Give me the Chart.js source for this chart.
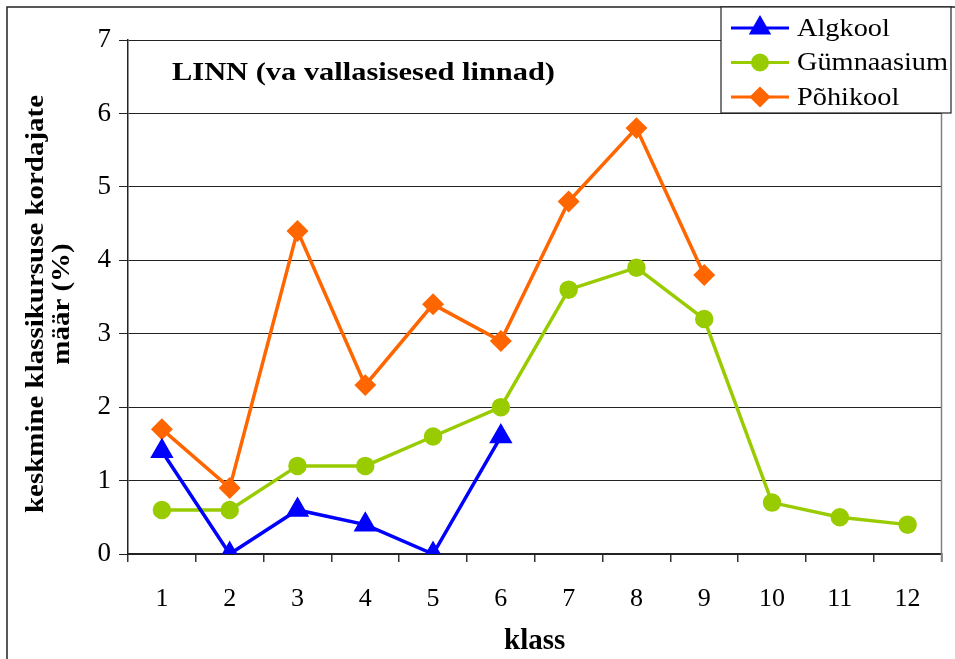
<!DOCTYPE html>
<html>
<head>
<meta charset="utf-8">
<script src="https://cdn.jsdelivr.net/npm/chart.js@4"></script>
<style>
  html, body { margin: 0; padding: 0; background: #fff; }
  #wrap { width: 955px; height: 659px; }
</style>
</head>
<body>
<div id="wrap"><canvas id="graafik" width="955" height="659"></canvas></div>
<script>
// Andmed
const klassid = ['1', '2', '3', '4', '5', '6', '7', '8', '9', '10', '11', '12'];
const algkool = [1.4, 0, 0.6, 0.4, 0, 1.6, null, null, null, null, null, null];
const gymnaasium = [0.6, 0.6, 1.2, 1.2, 1.6, 2.0, 3.6, 3.9, 3.2, 0.7, 0.5, 0.4];
const pohikool = [1.7, 0.9, 4.4, 2.3, 3.4, 2.9, 4.8, 5.8, 3.8, null, null, null];
const yTicks = [0, 1, 2, 3, 4, 5, 6, 7];
const yPealkiri = ['keskmine klassikursuse kordajate', 'määr (%)'];

const serif = '"Liberation Serif", "Times New Roman", serif';

// laiendatud tekst (originaal on laiemalt joonistatud)
function laiTekst(ctx, tekst, x, y, laius) {
    const m = ctx.measureText(tekst).width;
    ctx.save();
    ctx.translate(x, y);
    ctx.scale(laius / m, 1);
    ctx.fillText(tekst, 0, 0);
    ctx.restore();
}

// Raam, pealkirjad ja legend
const lisad = {
    id: 'lisad',
    afterDraw(chart) {
        const ctx = chart.ctx;
        const a = chart.chartArea;
        ctx.save();
        // välimine raam
        ctx.strokeStyle = '#222';
        ctx.lineWidth = 1.5;
        ctx.beginPath();
        ctx.moveTo(7, 659);
        ctx.lineTo(7, 7);
        ctx.lineTo(955, 7);
        ctx.stroke();
        // joonise parem serv
        ctx.strokeStyle = '#808080';
        ctx.lineWidth = 1.5;
        ctx.beginPath();
        ctx.moveTo(a.right, a.top);
        ctx.lineTo(a.right, a.bottom + 8);
        ctx.stroke();
        // y-telje pealkiri
        ctx.fillStyle = '#000';
        ctx.font = 'bold 25px ' + serif;
        ctx.textBaseline = 'middle';
        ctx.textAlign = 'center';
        const ySkaala = 418 / ctx.measureText(yPealkiri[0]).width;
        ctx.save();
        ctx.translate(0, 304);
        ctx.rotate(-Math.PI / 2);
        yPealkiri.forEach((rida, i) => {
            laiTekst(ctx, rida, 0, 37 + i * 26, ctx.measureText(rida).width * ySkaala);
        });
        ctx.restore();
        // tekst joonisel
        ctx.font = 'bold 26px ' + serif;
        ctx.textAlign = 'left';
        laiTekst(ctx, 'LINN (va vallasisesed linnad)', 172, 73, 383);
        // legend
        const lx = 721, ly = 7, lw = 230, lh = 106;
        ctx.fillStyle = '#fff';
        ctx.fillRect(lx, ly, lw, lh);
        ctx.strokeStyle = '#222';
        ctx.lineWidth = 1.2;
        ctx.strokeRect(lx, ly, lw, lh);
        ctx.font = '26px ' + serif;
        const skaala = 151 / ctx.measureText('Gümnaasium').width;
        chart.data.datasets.forEach((ds, i) => {
            const y = 28 + i * 34.5;
            ctx.strokeStyle = ds.borderColor;
            ctx.lineWidth = 3;
            ctx.beginPath();
            ctx.moveTo(731, y);
            ctx.lineTo(789, y);
            ctx.stroke();
            Chart.helpers.drawPoint(ctx, {
                pointStyle: ds.pointStyle,
                radius: ds.pointRadius,
                borderWidth: 1
            }, 760, y);
            ctx.fillStyle = ds.borderColor;
            ctx.fill();
            ctx.fillStyle = '#000';
            laiTekst(ctx, ds.label, 797, y + 1, ctx.measureText(ds.label).width * skaala);
        });
        ctx.restore();
    }
};

new Chart(document.getElementById('graafik').getContext('2d'), {
    type: 'line',
    data: {
        labels: klassid,
        datasets: [{
            label: 'Algkool',
            data: algkool,
            borderColor: '#0000FF',
            backgroundColor: '#0000FF',
            pointStyle: 'triangle',
            pointRadius: 10,
            borderWidth: 3.5,
            tension: 0
        }, {
            label: 'Gümnaasium',
            data: gymnaasium,
            borderColor: '#99CC00',
            backgroundColor: '#99CC00',
            pointStyle: 'circle',
            pointRadius: 7.5,
            borderWidth: 3.5,
            tension: 0
        }, {
            label: 'Põhikool',
            data: pohikool,
            borderColor: '#FF6600',
            backgroundColor: '#FF6600',
            pointStyle: 'rectRot',
            pointRadius: 8.5,
            borderWidth: 3.5,
            tension: 0
        }]
    },
    options: {
        responsive: false,
        animation: false,
        spanGaps: false,
        layout: { padding: { left: 0, top: 40, right: 11, bottom: 0 } },
        plugins: {
            legend: { display: false },
            tooltip: { enabled: false }
        },
        elements: { point: { borderWidth: 1 } },
        scales: {
            x: {
                offset: true,
                afterFit: s => { s.height = 105; },
                grid: {
                    offset: true,
                    drawOnChartArea: false,
                    drawTicks: true,
                    tickLength: 8,
                    color: '#333',
                    lineWidth: 1.5
                },
                border: { color: '#222', width: 1.5 },
                ticks: {
                    color: '#000',
                    font: { family: serif, size: 26 },
                    padding: 22,
                    maxRotation: 0
                },
                title: {
                    display: true,
                    text: 'klass',
                    color: '#000',
                    font: { family: serif, size: 29, weight: 'bold' },
                    padding: { top: 6, bottom: 0 }
                }
            },
            y: {
                min: 0,
                max: 7,
                afterFit: s => { s.width = 128; },
                afterBuildTicks: s => { s.ticks = yTicks.map(v => ({ value: v })); },
                grid: {
                    color: '#222',
                    lineWidth: 1,
                    drawTicks: true,
                    tickLength: 9
                },
                border: { color: '#222', width: 1.5 },
                ticks: {
                    color: '#000',
                    font: { family: serif, size: 27 },
                    padding: 8
                }
            }
        }
    },
    plugins: [lisad]
});
</script>
</body>
</html>
